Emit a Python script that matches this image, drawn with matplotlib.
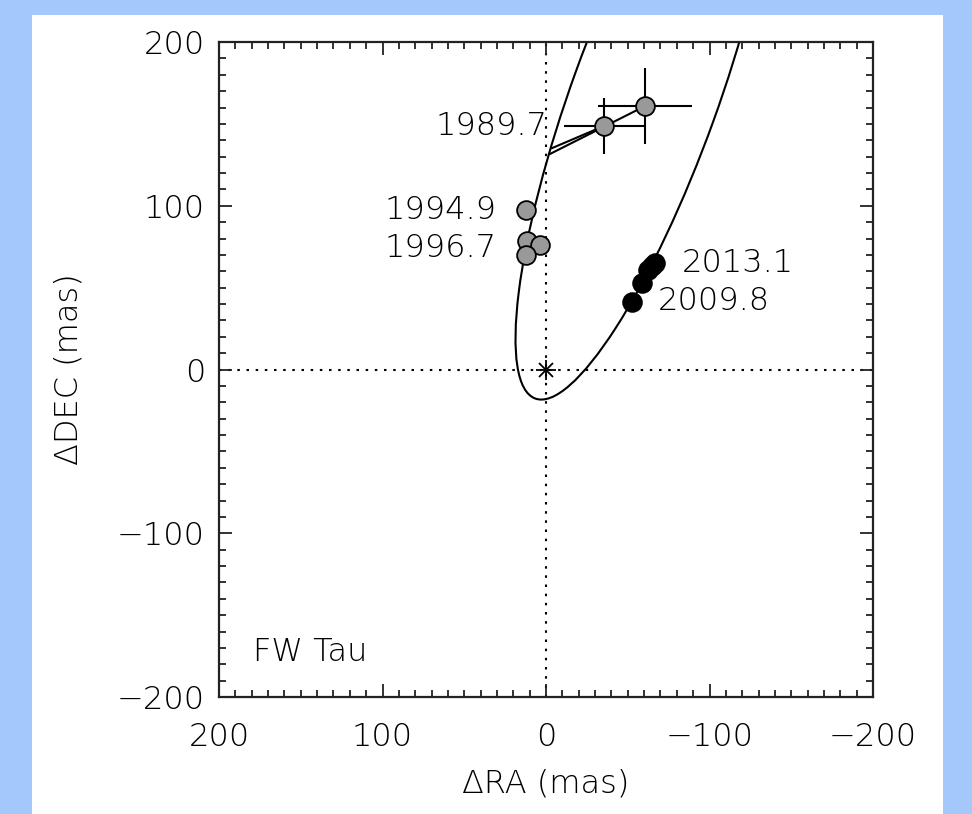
import numpy as np
import matplotlib.pyplot as plt
from matplotlib.patches import Ellipse, Rectangle
from matplotlib.ticker import MultipleLocator

# relative astrometry, mas (RA increases to the left)
early_ra = [-60.6, -35.5, 12.4, 11.8, 3.7, 12.4]
early_dec = [160.9, 148.7, 97.4, 78.7, 76.0, 70.0]
early_ra_err = [29.0, 24.5, 0, 0, 0, 0]
early_dec_err = [23.0, 17.0, 0, 0, 0, 0]

recent_ra = [-52.4, -58.5, -62.6, -65.0, -66.7]
recent_dec = [41.4, 52.6, 60.8, 63.5, 64.9]

# predicted positions on the orbit for the two oldest epochs
pred_ra = [-2.4, -3.7]
pred_dec = [131.6, 135.2]

# orbit ellipse on the sky
orbit_center = (-60.25, 166.66)
orbit_semimajor = 196.12
orbit_semiminor = 44.69
orbit_pa = -70.09

labels = ["1989.7", "1994.9", "1996.7", "2013.1", "2009.8"]
label_ra = [-1.0, 30.0, 30.0, -83.0, -68.5]
label_dec = [149.0, 97.5, 74.5, 65.0, 42.0]

plt.rcParams['font.family'] = ['DejaVu Sans']
plt.rcParams['font.weight'] = 'light'
plt.rcParams['axes.labelweight'] = 'light'
FS = 23
LW = 1.5

fig = plt.figure(figsize=(9.72, 8.14), dpi=100, facecolor='#a4c8fc')
fig.patches.append(Rectangle((32/972, 0), 911/972, 799/814, transform=fig.transFigure,
                             facecolor='white', edgecolor='none', zorder=-10))
ax = fig.add_axes([219/972, 117/814, 654/972, 655/814])
ax.set_xlim(200, -200)
ax.set_ylim(-200, 200)

ax.axvline(0, color='k', lw=LW, ls=(0, (1.2, 3.2)), zorder=1)
ax.axhline(0, color='k', lw=LW, ls=(0, (1.2, 3.2)), zorder=1)

ax.add_patch(Ellipse(orbit_center, 2*orbit_semimajor, 2*orbit_semiminor,
                     angle=orbit_pa, fill=False, edgecolor='k', lw=LW, zorder=2))

# residual lines from the 1989.7 measurements to the orbit
for i in range(2):
    ax.plot([early_ra[i], pred_ra[i]], [early_dec[i], pred_dec[i]],
            color='k', lw=LW, zorder=3)

ax.errorbar(early_ra[:2], early_dec[:2], xerr=early_ra_err[:2], yerr=early_dec_err[:2],
            fmt='none', ecolor='k', elinewidth=LW, capsize=0, zorder=3)
ax.plot(early_ra, early_dec, 'o', ms=13.5, mfc='#999999', mec='k', mew=1.3,
        ls='none', zorder=4)
ax.plot(recent_ra, recent_dec, 'o', ms=13.5, mfc='k', mec='k', mew=1.3,
        ls='none', zorder=4)

# primary star
ax.plot(0, 0, '+', ms=14.5, mew=1.3, color='k', zorder=5)
ax.plot(0, 0, 'x', ms=10.2, mew=1.3, color='k', zorder=5)

for lab, x, y in zip(labels, label_ra, label_dec):
    ha = 'right' if x > -10 else 'left'
    ax.text(x, y, lab, fontsize=FS, ha=ha, va='center', zorder=6)

ax.text(179, -172.5, "FW Tau", fontsize=FS, ha='left', va='center')

ax.xaxis.set_major_locator(MultipleLocator(100))
ax.yaxis.set_major_locator(MultipleLocator(100))
ax.xaxis.set_minor_locator(MultipleLocator(10))
ax.yaxis.set_minor_locator(MultipleLocator(10))
ax.tick_params(which='both', direction='in', top=True, right=True, width=1.3,
               color='#222222')
ax.tick_params(which='major', length=9.5, labelsize=FS)
ax.tick_params(which='minor', length=5)
ax.tick_params(axis='x', pad=18)
ax.tick_params(axis='y', pad=10)
for s in ax.spines.values():
    s.set_linewidth(1.6)
    s.set_color('#222222')

ax.set_xlabel("ΔRA (mas)", fontsize=FS, labelpad=12)
ax.set_ylabel("ΔDEC (mas)", fontsize=FS, labelpad=24)

fig.savefig('out.png', facecolor=fig.get_facecolor())
